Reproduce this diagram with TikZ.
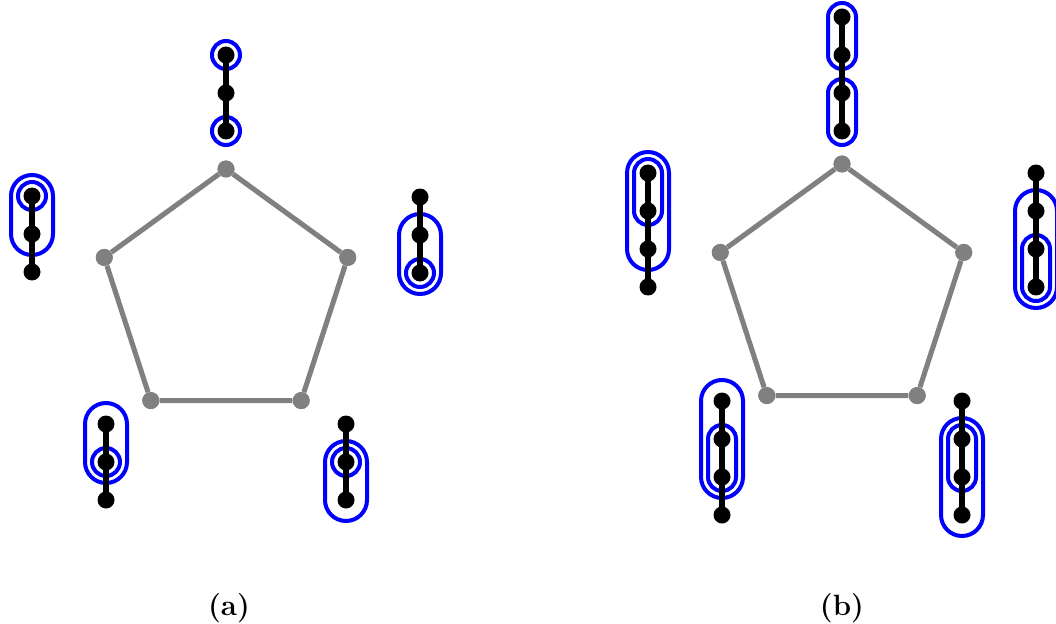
\documentclass[tikz,border=0pt]{standalone}
\usepackage{fontspec}
\usetikzlibrary{fit}
\begin{document}
\begin{tikzpicture}[x=0.75pt,y=-0.75pt,
  vtx/.style={circle,fill=black,draw=none,minimum size=12.75pt,inner sep=0pt},
  pvtx/.style={circle,fill=gray,draw=none,minimum size=12.75pt,inner sep=0pt},
  link/.style={line width=3.9pt,black},
  pedge/.style={line width=3.8pt,gray},
  ring/.style={circle,draw=blue,line width=3pt,minimum size=21pt,inner sep=0pt},
  capsule/.style={rectangle,draw=blue,line width=3pt,rounded corners=#1,inner sep=#1,minimum size=0pt},
  capsule/.default=10.5pt,
  wide/.style={capsule=15.75pt},
  lbl/.style={font={\fontsize{22}{26}\selectfont\bfseries}}]
\useasboundingbox (0,0) rectangle (1056,624);

% ---------- (a) ----------
\foreach \i/\a in {1/90,2/162,3/234,4/306,5/18}
  \node[pvtx] (pa\i) at ({226+128*cos(\a)},{297-128*sin(\a)}) {};
\draw[pedge] (pa1) -- (pa2) -- (pa3) -- (pa4) -- (pa5) -- (pa1);
\foreach \i in {1,...,5}
  \node[pvtx] at (pa\i) {};

% chain positions
\foreach \n/\x/\y in {t/226/55, l/32/196, r/420/197, bl/106/424, br/346/424}{
  \coordinate (a\n1) at (\x,\y);
  \coordinate (a\n2) at (\x,\y+38);
  \coordinate (a\n3) at (\x,\y+76);
}
% highlight sets
\node[ring,fit=(at1)] {};
\node[ring,fit=(at3)] {};
\node[wide,fit=(al1)(al2)] {};
\node[ring,fit=(al1)] {};
\node[wide,fit=(ar2)(ar3)] {};
\node[ring,fit=(ar3)] {};
\node[wide,fit=(abl1)(abl2)] {};
\node[ring,fit=(abl2)] {};
\node[wide,fit=(abr2)(abr3)] {};
\node[ring,fit=(abr2)] {};
% chains
\foreach \n in {t,l,r,bl,br}{
  \draw[link] (a\n1) -- (a\n2) -- (a\n3);
  \foreach \k in {1,2,3} \node[vtx] at (a\n\k) {};
}
\node[lbl] (capa) at (229,608) {(a)};

% ---------- (b) ----------
\foreach \i/\a in {1/90,2/162,3/234,4/306,5/18}
  \node[pvtx] (pb\i) at ({842+128*cos(\a)},{292-128*sin(\a)}) {};
\draw[pedge] (pb1) -- (pb2) -- (pb3) -- (pb4) -- (pb5) -- (pb1);
\foreach \i in {1,...,5}
  \node[pvtx] at (pb\i) {};

\foreach \n/\x/\y in {t/842/17, l/648/173, r/1036/173, bl/722/401, br/962/401}{
  \coordinate (b\n1) at (\x,\y);
  \coordinate (b\n2) at (\x,\y+38);
  \coordinate (b\n3) at (\x,\y+76);
  \coordinate (b\n4) at (\x,\y+114);
}
\node[capsule,fit=(bt1)(bt2)] {};
\node[capsule,fit=(bt3)(bt4)] {};
\node[wide,fit=(bl1)(bl3)] {};
\node[capsule,fit=(bl1)(bl2)] {};
\node[wide,fit=(br2)(br4)] {};
\node[capsule,fit=(br3)(br4)] {};
\node[wide,fit=(bbl1)(bbl3)] {};
\node[capsule,fit=(bbl2)(bbl3)] {};
\node[wide,fit=(bbr2)(bbr4)] {};
\node[capsule,fit=(bbr2)(bbr3)] {};
\foreach \n in {t,l,r,bl,br}{
  \draw[link] (b\n1) -- (b\n2) -- (b\n3) -- (b\n4);
  \foreach \k in {1,2,3,4} \node[vtx] at (b\n\k) {};
}
\node[lbl] (capb) at (842,608) {(b)};
\end{tikzpicture}
\end{document}
